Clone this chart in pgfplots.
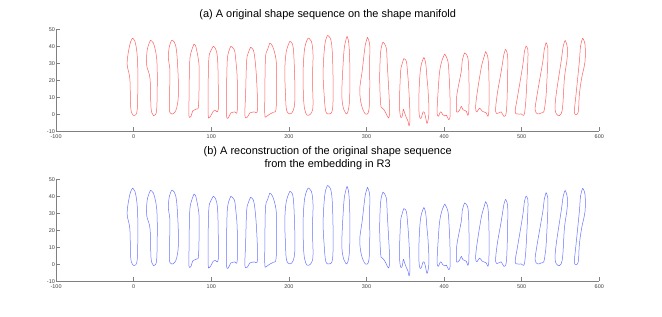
\documentclass[border=0pt]{standalone}
\usepackage{pgfplots}
\pgfplotsset{compat=1.18}
\usepackage{pgfplotstable}
\usepackage{fontspec}
\setmainfont{Liberation Sans}

\pgfplotstableread{
x y
-1.5 44.8
-5 41
-8.5 30
-5 21
-4 5
-2 0.3
1.5 -0.7
4.5 2.5
5.3 15
5.2 28
4 37
1.5 43
-1.5 44.8
}\SA
\pgfplotstableread{
x y
21.5 43.5
17.5 38
16.7 29
21 21
22.3 4
24.5 0
26.6 -0.6
29.6 2.7
30.4 21
29.8 32
28.7 36
25.3 42
21.5 43.5
}\SB
\pgfplotstableread{
x y
48.9 43.5
46 40
44.6 33
46.7 25
45.9 4
48 0.5
49.5 0.1
53 1.2
55.5 4
57.4 10
57.4 21
55.3 37
52.3 42.5
48.9 43.5
}\SC
\pgfplotstableread{
x y
77.6 41.3
75 38
72.5 33
71.6 21
71.2 5
71 0
72 -1.8
74 -1
76 2
78 2.5
81.5 3.2
83.5 5
84.4 21
84 30
81 38
79.5 40.5
77.6 41.3
}\SD
\pgfplotstableread{
x y
102.5 40
99 37
96.9 33
96 19
96 0
97 -2
99 -1.2
102.5 1.8
105 2.3
108.9 2.7
108.9 19
108 33
105.5 38.6
102.5 40
}\SE
\pgfplotstableread{
x y
125.2 40
122.5 37
120.5 31
119.6 12
119.6 -0.6
121.8 -2.2
125.2 0.8
130.4 1.4
133.4 2.1
133.4 21
131.3 33
129.6 38
125.2 40
}\SF
\pgfplotstableread{
x y
150.6 39.4
147.5 36
145.5 31
144.2 12
143.3 -0.6
146.3 -1.8
149.7 0.8
155.3 1.4
159.6 2.7
158.3 21
156.1 33
154 38
150.6 39.4
}\SG
\pgfplotstableread{
x y
175.4 41.9
172.5 38
169.8 33
169 11.6
169 -0.6
171.1 -1.2
175 0
180 1.2
183.5 3.5
184 20
183.5 32
179 40
175.4 41.9
}\SH
\pgfplotstableread{
x y
201.2 42.9
198.5 40
196 35
194.7 25
195.6 12
196.9 2.7
201.2 0.2
205.5 2.1
207.6 7.6
207.6 19
206.3 35
204.6 41.4
201.2 42.9
}\SI
\pgfplotstableread{
x y
224.7 44.9
220.4 39
218.3 25
219.1 7.6
221.7 0.8
224.7 -0.6
229 0.8
231.1 5.7
230.3 21
231.1 35
229 42.9
224.7 44.9
}\SJ
\pgfplotstableread{
x y
249.7 46.4
246.3 41
244.1 25
245.4 11.6
247.5 1.8
251.8 0.2
256.1 2.7
257 15.5
256.1 35
254 43.9
249.7 46.4
}\SK
\pgfplotstableread{
x y
274.9 45.9
272.5 42
270.6 35
268.2 13.5
269.5 5
271.9 1.8
274.6 0.2
277.1 3.7
278.4 11.6
278.4 31
277.1 42
274.9 45.9
}\SL
\pgfplotstableread{
x y
301.2 45.3
298.5 41
296.8 35
294.3 25
291.3 14.5
293.4 5.7
298.5 0.2
302.8 1.8
304.1 11.6
304.1 31
304.1 41
301.2 45.3
}\SM
\pgfplotstableread{
x y
321.3 42.5
318.3 37
317 21.4
318.3 5.7
320.4 3.7
322.5 2.7
325.5 0.2
328.5 -2.2
329.8 1.8
329 11.6
326.8 29.2
325.5 39
321.3 42.5
}\SN
\pgfplotstableread{
x y
347.9 32.7
345.5 29
344 25.3
342.7 11.6
342.7 2.7
344.2 -1.8
346.2 -0.8
347.5 3
349 1
351.4 -2
353.5 -4
354.7 -6.8
355.8 -5
355.8 2.7
354.5 15
353.5 21.4
351.4 31
347.9 32.7
}\SO
\pgfplotstableread{
x y
374 33.5
371 30
369 24
367.6 12
367.6 2
369 -2.4
371 -1.5
373 1.5
375 0.5
376.5 -2.5
377.9 -5.4
379.5 -3
380.5 2.7
379.2 15
377.9 21.4
376.3 30
374 33.5
}\SP
\pgfplotstableread{
x y
400.8 35.5
397.5 32
394.2 25
392 11.6
391 1.5
392.5 -1.2
395.5 1.5
398 0
400.5 -1
403 -0.5
406 -3.1
407.8 -0.5
407.5 12
406.5 22
405 31
400.8 35.5
}\SQ
\pgfplotstableread{
x y
426.4 36.1
423.5 32
422.1 25.3
416.5 11.6
415.7 3.7
416.5 1.2
420 2.5
422.1 4.7
424.3 2.7
428.6 1.8
430.7 -0.6
432 3.7
432 21.4
430.7 33.1
426.4 36.1
}\SR
\pgfplotstableread{
x y
453.4 36.9
451 33
447.8 27.3
442.3 11.6
440.6 3.7
442.3 1.4
445.7 3.7
449.2 1.8
454.3 0.8
456.5 -1.2
457.8 3.7
457.8 21.4
456.5 33.1
453.4 36.9
}\SS
\pgfplotstableread{
x y
479.2 38.2
477 35
473.6 25.3
468.4 11.6
466.3 1.8
469.3 0.6
473.6 1.4
477 -1.2
480 0.8
481.3 11.6
482.1 31.1
481 36.5
479.2 38.2
}\ST
\pgfplotstableread{
x y
505.8 40.2
503.5 37
501.5 29.2
495.1 11.6
491.6 1.8
494.2 0.2
499.4 0.2
502.8 -0.6
504.5 3.7
505.8 11.6
507.9 31.1
507.9 38
505.8 40.2
}\SU
\pgfplotstableread{
x y
531.5 42.2
529 38
527.2 31.1
519.9 11.6
517.3 2.7
520.7 0.2
525 0.8
528.5 1.5
530.1 5.7
531.5 11.6
533.6 31.1
533.6 39
531.5 42.2
}\SV
\pgfplotstableread{
x y
556 43.5
553.5 40
550.8 31.1
544.4 11.6
543.1 2.7
546.5 -0.6
550.8 0.2
553 5.7
555.1 21.4
558.6 33.1
558.6 40
556 43.5
}\SW
\pgfplotstableread{
x y
578.6 44.8
575.8 40
574.3 31.1
570 11.6
567.9 1.8
570 -0.2
573 1.8
574.3 11.6
577.3 21.4
581.6 31.1
581.6 41
578.6 44.8
}\SX

\definecolor{shapered}{RGB}{255,95,95}
\definecolor{shapeblue}{RGB}{105,115,255}

\pgfplotsset{
  shapeaxis/.style={
    scale only axis, width=543.2bp, height=102bp,
    xmin=-100, xmax=600, ymin=-10, ymax=50,
    axis x line*=bottom, axis y line*=left,
    axis line style={black!50, line width=0.5bp},
    tick align=inside, major tick length=4bp,
    tick style={black!50, line width=0.5bp},
    xtick={-100,0,100,200,300,400,500,600},
    ytick={-10,0,10,20,30,40,50},
    ticklabel style={font=\fontsize{5.5}{6}\selectfont, text=black!75, inner sep=1bp},
    xticklabel style={yshift=-2.4bp},
    /pgf/number format/assume math mode=true,
    title style={font=\fontsize{11}{13}\selectfont, anchor=south, at={(0.5,1)}, inner sep=0pt, yshift=3bp, align=center},
    every axis plot/.append style={smooth, tension=0.6, line width=0.5bp, mark=none, line join=round},
    clip=false,
  },
}

\begin{document}
\begin{tikzpicture}
\useasboundingbox (0,0) rectangle (662bp,317bp);
\begin{axis}[shapeaxis, at={(56.1bp,185.7bp)}, anchor=south west,
  title={(a) A original shape sequence on the shape manifold}]
\addplot[shapered] table {\SA};
\addplot[shapered] table {\SB};
\addplot[shapered] table {\SC};
\addplot[shapered] table {\SD};
\addplot[shapered] table {\SE};
\addplot[shapered] table {\SF};
\addplot[shapered] table {\SG};
\addplot[shapered] table {\SH};
\addplot[shapered] table {\SI};
\addplot[shapered] table {\SJ};
\addplot[shapered] table {\SK};
\addplot[shapered] table {\SL};
\addplot[shapered] table {\SM};
\addplot[shapered] table {\SN};
\addplot[shapered] table {\SO};
\addplot[shapered] table {\SP};
\addplot[shapered] table {\SQ};
\addplot[shapered] table {\SR};
\addplot[shapered] table {\SS};
\addplot[shapered] table {\ST};
\addplot[shapered] table {\SU};
\addplot[shapered] table {\SV};
\addplot[shapered] table {\SW};
\addplot[shapered] table {\SX};
\end{axis}
\begin{axis}[shapeaxis, at={(56.1bp,35.7bp)}, anchor=south west,
  title={(b) A reconstruction of the original shape sequence\\from the embedding in R3}]
\addplot[shapeblue] table {\SA};
\addplot[shapeblue] table {\SB};
\addplot[shapeblue] table {\SC};
\addplot[shapeblue] table {\SD};
\addplot[shapeblue] table {\SE};
\addplot[shapeblue] table {\SF};
\addplot[shapeblue] table {\SG};
\addplot[shapeblue] table {\SH};
\addplot[shapeblue] table {\SI};
\addplot[shapeblue] table {\SJ};
\addplot[shapeblue] table {\SK};
\addplot[shapeblue] table {\SL};
\addplot[shapeblue] table {\SM};
\addplot[shapeblue] table {\SN};
\addplot[shapeblue] table {\SO};
\addplot[shapeblue] table {\SP};
\addplot[shapeblue] table {\SQ};
\addplot[shapeblue] table {\SR};
\addplot[shapeblue] table {\SS};
\addplot[shapeblue] table {\ST};
\addplot[shapeblue] table {\SU};
\addplot[shapeblue] table {\SV};
\addplot[shapeblue] table {\SW};
\addplot[shapeblue] table {\SX};
\end{axis}
\end{tikzpicture}
\end{document}
